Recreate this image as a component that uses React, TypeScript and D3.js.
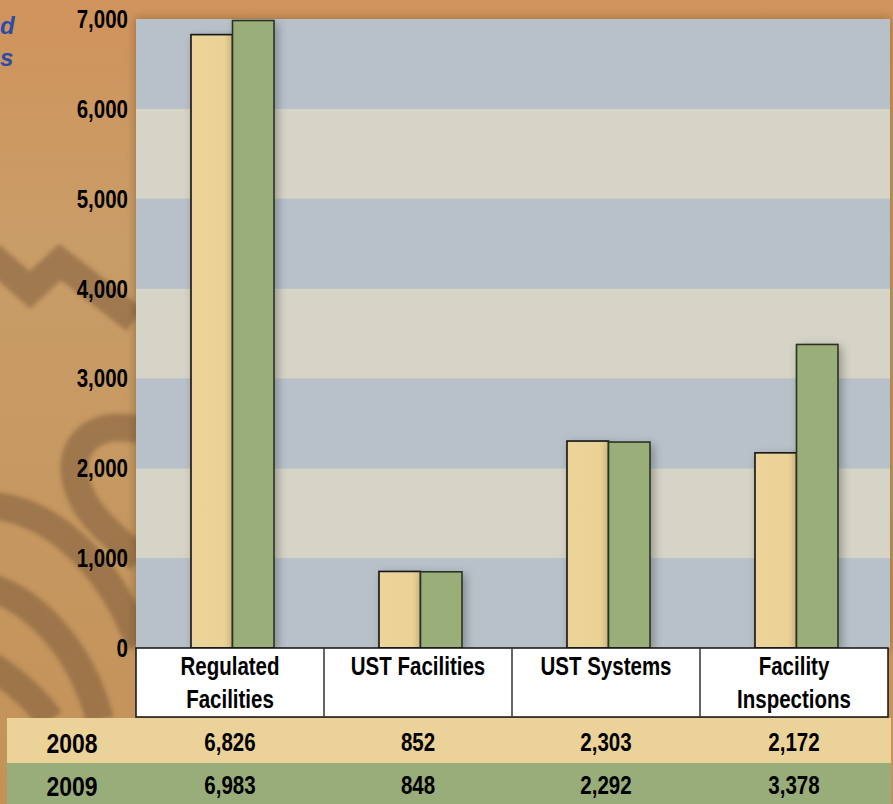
import React from "react";
import * as d3 from "d3";

const categories = ["Regulated Facilities", "UST Facilities", "UST Systems", "Facility Inspections"];
const categoryLines = [["Regulated", "Facilities"], ["UST Facilities"], ["UST Systems"], ["Facility", "Inspections"]];
const years = ["2008", "2009"];
const values2008 = [6826, 852, 2303, 2172];
const values2009 = [6983, 848, 2292, 3378];
const yTicks = [0, 1000, 2000, 3000, 4000, 5000, 6000, 7000];

const W = 893;
const H = 804;
const FONT = "'Liberation Sans', Arial, sans-serif";
const NARROW = 0.82;

function T({ x, y, size, anchor = "middle", children, fill = "#000" }: any) {
  return (
    <text
      transform={`translate(${x},${y}) scale(${NARROW},1)`}
      textAnchor={anchor}
      fontFamily={FONT}
      fontWeight="bold"
      fontSize={size}
      fill={fill}
    >
      {children}
    </text>
  );
}

export default function App() {
  const left = 136, right = 888, top = 19, bottom = 648;
  const y = d3.scaleLinear().domain([0, 7000]).range([bottom, top]);
  const x = d3.scaleBand<string>().domain(categories).range([left, right]).padding(0);
  const inner = d3.scaleBand<string>().domain(years).range([-41.5, 41.5]).padding(0);
  const fmt = d3.format(",");
  const cx = (c: string) => (x(c) as number) + x.bandwidth() / 2;
  const series = [
    { year: "2008", vals: values2008, fill: "url(#gBeige)", stroke: "#141414" },
    { year: "2009", vals: values2009, fill: "#9aae7a", stroke: "#2b3324" },
  ];
  const bands = d3.range(0, 7).map((k) => ({ k, y0: y(k * 1000), y1: y((k + 1) * 1000) }));
  const headerBottom = 717;
  const row1 = [718, 763];
  const row2 = [763, 804];

  return (
    <svg width={W} height={H} style={{ position: "absolute", left: 0, top: 0, display: "block" }}>
      <defs>
        <linearGradient id="bg" x1="0" y1="0" x2="0" y2="1">
          <stop offset="0" stopColor="#d0935b" />
          <stop offset="0.3" stopColor="#c99d68" />
          <stop offset="1" stopColor="#c39259" />
        </linearGradient>
        <linearGradient id="gBeige" x1="0" y1="0" x2="1" y2="0">
          <stop offset="0" stopColor="#ecd49a" />
          <stop offset="0.8" stopColor="#ead297" />
          <stop offset="1" stopColor="#d9c08a" />
        </linearGradient>
        <filter id="shadow" x="-30%" y="-10%" width="160%" height="130%">
          <feDropShadow dx="3" dy="3" stdDeviation="5" floodColor="#000" floodOpacity="0.3" />
        </filter>
        <filter id="pshadow" x="-5%" y="-5%" width="110%" height="110%">
          <feDropShadow dx="0" dy="0" stdDeviation="4" floodColor="#3a2410" floodOpacity="0.4" />
        </filter>
        <filter id="blur"><feGaussianBlur stdDeviation="2" /></filter>
        <clipPath id="plotClip">
          <rect x={left} y={top} width={right - left + 2} height={bottom - top + 30} />
        </clipPath>
      </defs>

      {/* background */}
      <rect x={0} y={0} width={W} height={H} fill="url(#bg)" />
      <g fill="none" stroke="#6a4a30" strokeOpacity={0.42} strokeWidth={28} filter="url(#blur)">
        <path d="M -10 255 L 30 290 L 60 262 L 135 320" />
        <path d="M 140 430 C 100 420, 70 440, 75 475 C 80 515, 120 540, 140 560" />
        <path d="M -20 505 C 50 505, 110 565, 140 645" />
        <path d="M -20 585 C 30 595, 80 645, 100 720" />
        <path d="M -10 665 C 20 685, 40 705, 50 720" />
      </g>

      {/* blue italic fragments at top-left */}
      <text x={0} y={34} fontFamily={FONT} fontStyle="italic" fontWeight="bold" fontSize={24} fill="#2b4ba8">d</text>
      <text x={0} y={66} fontFamily={FONT} fontStyle="italic" fontWeight="bold" fontSize={24} fill="#2b4ba8">s</text>

      {/* plot area */}
      <rect x={left} y={top} width={right - left + 2} height={bottom - top} fill="#b8c1c9" filter="url(#pshadow)" />
      {bands.map((b) => (
        <rect key={b.k} x={left} y={b.y1} width={right - left + 2} height={b.y0 - b.y1} fill={b.k % 2 === 0 ? "#b8c1c9" : "#d6d3c7"} />
      ))}

      {/* bars */}
      <g clipPath="url(#plotClip)">
        {categories.map((c, ci) => (
          <g key={c} transform={`translate(${cx(c) + 2.5},0)`}>
            {series.map((s) => (
              <rect
                key={s.year}
                x={inner(s.year) as number}
                y={y(s.vals[ci])}
                width={inner.bandwidth()}
                height={bottom - y(s.vals[ci])}
                fill={s.fill}
                stroke={s.stroke}
                strokeWidth={1.6}
                filter="url(#shadow)"
              />
            ))}
          </g>
        ))}
      </g>

      {/* y axis labels */}
      {yTicks.map((t) => (
        <T key={t} x={128} y={y(t) + 9} size={25} anchor="end">{fmt(t)}</T>
      ))}

      {/* header table */}
      <rect x={left} y={bottom} width={right - left} height={headerBottom - bottom} fill="#fff" stroke="#111" strokeWidth={1.5} />
      {categories.slice(1).map((c) => (
        <line key={c} x1={x(c) as number} x2={x(c) as number} y1={bottom} y2={headerBottom} stroke="#333" strokeWidth={1.5} />
      ))}
      {categories.map((c, ci) =>
        categoryLines[ci].map((ln, li) => (
          <T key={c + li} x={cx(c)} y={675 + li * 33} size={25}>{ln}</T>
        ))
      )}

      {/* data rows */}
      <rect x={7} y={row1[0]} width={884} height={row1[1] - row1[0]} fill="#ebd299" />
      <rect x={7} y={row2[0]} width={884} height={row2[1] - row2[0]} fill="#98ad7a" />
      {series.map((s, si) => {
        const base = si === 0 ? 751 : 794;
        return (
          <g key={s.year}>
            <T x={72} y={base + 2} size={28}>{s.year}</T>
            {categories.map((c, ci) => (
              <T key={c} x={cx(c)} y={base} size={25}>{fmt(s.vals[ci])}</T>
            ))}
          </g>
        );
      })}
    </svg>
  );
}
